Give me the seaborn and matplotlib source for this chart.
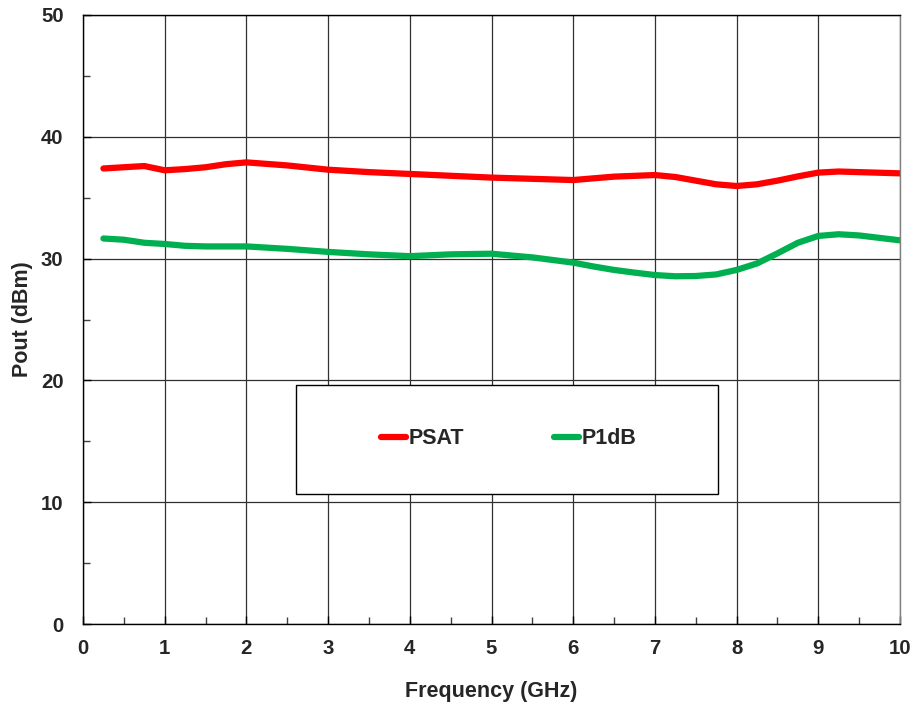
import matplotlib
matplotlib.use("Agg")
import matplotlib.pyplot as plt
import seaborn as sns
import pandas as pd
from matplotlib.patches import Rectangle
from matplotlib.ticker import MultipleLocator

freq_psat = [0.25, 0.5, 0.75, 1.0, 1.25, 1.5, 1.75, 2.0, 2.5, 3.0, 3.5, 4.0, 4.5, 5.0,
             5.5, 6.0, 6.5, 7.0, 7.25, 7.5, 7.75, 8.0, 8.25, 8.5, 8.75, 9.0, 9.25, 9.5, 10.0]
psat = [37.4, 37.5, 37.6, 37.25, 37.35, 37.5, 37.75, 37.9, 37.65, 37.3, 37.1, 36.95, 36.8, 36.65,
        36.55, 36.45, 36.73, 36.86, 36.7, 36.4, 36.1, 35.96, 36.1, 36.4, 36.75, 37.06, 37.15, 37.1, 37.0]

freq_p1db = [0.25, 0.5, 0.75, 1.0, 1.25, 1.5, 2.0, 2.5, 3.0, 3.5, 4.0, 4.5, 5.0, 5.5,
             6.0, 6.25, 6.5, 6.75, 7.0, 7.25, 7.5, 7.75, 8.0, 8.25, 8.5, 8.75, 9.0, 9.25, 9.5, 10.0]
p1db = [31.65, 31.55, 31.3, 31.2, 31.05, 31.0, 31.0, 30.8, 30.55, 30.35, 30.2, 30.35, 30.4, 30.1,
        29.67, 29.35, 29.07, 28.85, 28.65, 28.55, 28.57, 28.7, 29.07, 29.6, 30.43, 31.3, 31.86, 32.0, 31.9, 31.5]

series_names = ["PSAT", "P1dB"]
colors = {"PSAT": "#ff0000", "P1dB": "#00b050"}

x_ticks = list(range(0, 11))
y_ticks = [0, 10, 20, 30, 40, 50]

df = pd.concat([
    pd.DataFrame({"Frequency": freq_psat, "Pout": psat, "Series": "PSAT"}),
    pd.DataFrame({"Frequency": freq_p1db, "Pout": p1db, "Series": "P1dB"}),
])

sns.set_style("white")
plt.rcParams["font.family"] = ["Liberation Sans", "DejaVu Sans"]
plt.rcParams["font.weight"] = "bold"

fig = plt.figure(figsize=(9.14, 7.08), dpi=100)
ax = fig.add_axes([83 / 914, 84 / 708, 817 / 914, 609 / 708])

sns.lineplot(data=df, x="Frequency", y="Pout", hue="Series", hue_order=series_names,
             palette=colors, linewidth=4.5, ax=ax, legend=False, sort=True,
             solid_capstyle="round", solid_joinstyle="round")

ax.set_xlim(0, 10)
ax.set_ylim(0, 50)
ax.set_xticks(x_ticks)
ax.set_yticks(y_ticks)
ax.xaxis.set_minor_locator(MultipleLocator(0.5))
ax.yaxis.set_minor_locator(MultipleLocator(5))
ax.grid(True, which="major", color="#303030", linewidth=0.9)
ax.set_axisbelow(True)
ax.tick_params(which="major", direction="in", length=6, width=1, color="black",
               labelsize=14.7)
ax.tick_params(axis="y", which="major", pad=14)
ax.tick_params(axis="x", which="major", pad=11)
ax.tick_params(which="minor", direction="in", length=5, width=1, color="#404040")
ax.tick_params(axis="y", which="both", left=True)
ax.tick_params(axis="x", which="both", bottom=True)
for lab in ax.get_xticklabels() + ax.get_yticklabels():
    lab.set_fontweight("bold")
for s in ax.spines.values():
    s.set_color("black")
    s.set_linewidth(1)
ax.spines["right"].set_color("#808080")

ax.set_xlabel("Frequency (GHz)", fontsize=15.5, fontweight="bold", labelpad=16)
ax.set_ylabel("Pout (dBm)", fontsize=15.5, fontweight="bold", labelpad=6)

# legend box
box = Rectangle(((296 - 83) / 817, (624 - 494) / 609), (718 - 296) / 817, (494 - 385) / 609,
                transform=ax.transAxes, facecolor="white", edgecolor="black",
                linewidth=1, zorder=5)
ax.add_patch(box)
handles = [plt.Line2D([], [], color=colors[n], linewidth=4.5, solid_capstyle="round")
           for n in series_names]
leg = ax.legend(handles, series_names, loc="center", bbox_to_anchor=(0.521, 0.304),
                ncol=2, frameon=False, handlelength=1.15, handletextpad=0.12,
                columnspacing=4.2, prop={"size": 15.5, "weight": "bold"})
leg.set_zorder(6)

fig.savefig("out.png", dpi=100)
